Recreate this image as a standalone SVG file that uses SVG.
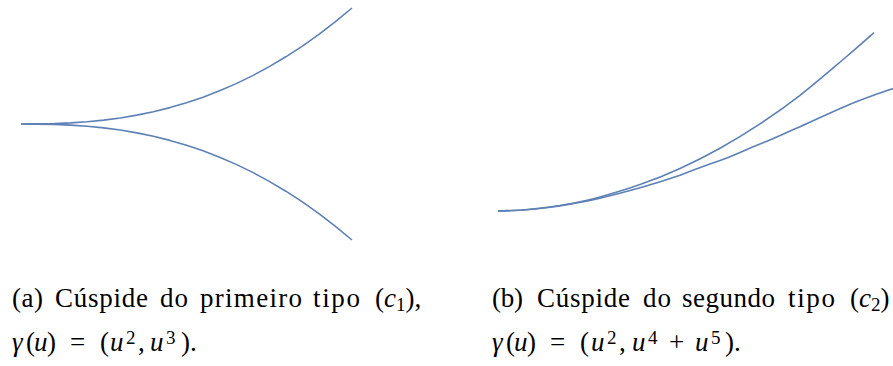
<svg xmlns="http://www.w3.org/2000/svg" width="893" height="366" viewBox="0 0 893 366">
<style>
.curve{fill:none;stroke:#5E81B5;stroke-width:1.6;stroke-linecap:butt;stroke-linejoin:round}
.it{font-style:italic}
.sm{font-size:19px}
</style>
<rect width="893" height="366" fill="#fff"/>
<g id="plot-a">
<polyline class="curve" points="21,124 37.55,123.92 54.1,123.59 70.65,122.89 87.2,121.75 103.75,120.11 120.3,117.93 136.85,115.14 153.4,111.71 169.95,107.6 186.5,102.8 203.05,97.18 219.6,90.8 236.15,83.63 252.7,75.6 269.25,66.67 285.8,56.8 302.35,46.1 318.9,34.4 335.45,21.7 352,8"/>
<polyline class="curve" points="21,124 37.55,124.08 54.1,124.41 70.65,125.11 87.2,126.25 103.75,127.89 120.3,130.07 136.85,132.86 153.4,136.29 169.95,140.4 186.5,145.2 203.05,150.82 219.6,157.2 236.15,164.37 252.7,172.4 269.25,181.33 285.8,191.2 302.35,201.9 318.9,213.6 335.45,226.3 352,240"/>
</g>
<g id="plot-b">
<path class="curve" d="M498,211 C502.17,210.83 514.67,210.62 523,210 C531.33,209.38 539.67,208.43 548,207.3 C556.33,206.17 564.33,204.92 573,203.2 C581.67,201.48 588.83,200.1 600,197 C611.17,193.9 626.67,189.37 640,184.6 C653.33,179.83 666.67,174.47 680,168.4 C693.33,162.33 706.67,155.62 720,148.2 C733.33,140.78 746.67,132.72 760,123.9 C773.33,115.08 785.67,106.45 800,95.3 C814.33,84.15 833.67,67.43 846,57 C858.33,46.57 869.33,36.75 874,32.7"/>
<path class="curve" d="M498,211 C502.17,210.83 514.67,210.58 523,210 C531.33,209.42 539.67,208.57 548,207.5 C556.33,206.43 564.33,205.15 573,203.6 C581.67,202.05 588.83,200.83 600,198.2 C611.17,195.57 626.67,191.63 640,187.8 C653.33,183.97 666.67,179.75 680,175.2 C693.33,170 706.67,165.05 720,160.5 C733.33,155.95 746.67,149.2 760,144 C773.33,138.8 786.67,132.33 800,126.7 C814.33,120.37 832.67,111.62 846,106 C859.33,100.38 871,96.25 880,93 C889,89.75 896.67,87.58 900,86.5"/>
</g>
<g id="lines-a">
<text font-family="Liberation Serif" font-size="27" x="12" y="307" textLength="31">(a)</text>
<text font-family="Liberation Serif" font-size="27" x="55" y="307" textLength="93">Cúspide</text>
<text font-family="Liberation Serif" font-size="27" x="160" y="307" textLength="28">do</text>
<text font-family="Liberation Serif" font-size="27" x="200" y="307" textLength="102">primeiro</text>
<text font-family="Liberation Serif" font-size="27" x="313" y="307" textLength="47">tipo</text>
<text font-family="Liberation Serif" font-size="27" x="375" y="307">(<tspan class="it">c</tspan><tspan class="sm" dy="4">1</tspan><tspan dy="-4">),</tspan></text>
<text font-family="Liberation Serif" font-size="27" y="351"><tspan x="12" class="it">γ</tspan><tspan x="26">(</tspan><tspan x="34" class="it">u</tspan><tspan x="47">)</tspan><tspan x="70">=</tspan><tspan x="100">(</tspan><tspan x="110" class="it">u</tspan><tspan x="126" dy="-7" class="sm">2</tspan><tspan x="138" dy="7">,</tspan><tspan x="150" class="it">u</tspan><tspan x="166" dy="-7" class="sm">3</tspan><tspan x="181" dy="7">).</tspan></text>
</g>
<g id="lines-b">
<text font-family="Liberation Serif" font-size="27" x="492" y="307" textLength="31">(b)</text>
<text font-family="Liberation Serif" font-size="27" x="537" y="307" textLength="93">Cúspide</text>
<text font-family="Liberation Serif" font-size="27" x="643" y="307" textLength="28">do</text>
<text font-family="Liberation Serif" font-size="27" x="682" y="307" textLength="93">segundo</text>
<text font-family="Liberation Serif" font-size="27" x="788" y="307" textLength="47">tipo</text>
<text font-family="Liberation Serif" font-size="27" x="850" y="307">(<tspan class="it">c</tspan><tspan class="sm" dy="4">2</tspan><tspan dy="-4">)</tspan></text>
<text font-family="Liberation Serif" font-size="27" y="351"><tspan x="492" class="it">γ</tspan><tspan x="506">(</tspan><tspan x="514" class="it">u</tspan><tspan x="527">)</tspan><tspan x="550">=</tspan><tspan x="580">(</tspan><tspan x="591" class="it">u</tspan><tspan x="607" dy="-7" class="sm">2</tspan><tspan x="619" dy="7">,</tspan><tspan x="632" class="it">u</tspan><tspan x="648" dy="-7" class="sm">4</tspan><tspan x="669" dy="7">+</tspan><tspan x="695" class="it">u</tspan><tspan x="711" dy="-7" class="sm">5</tspan><tspan x="725" dy="7">).</tspan></text>
</g>
</svg>
